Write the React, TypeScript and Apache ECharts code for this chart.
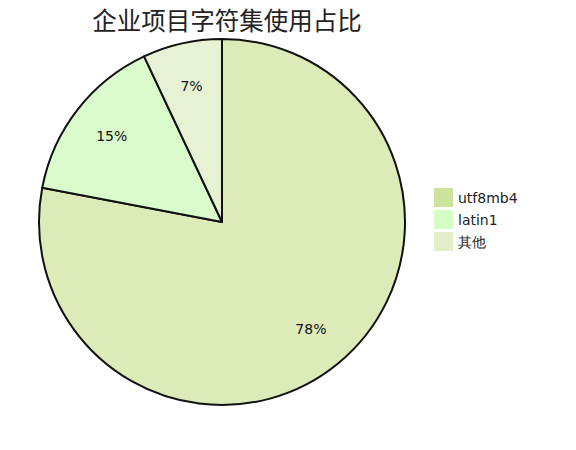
import { useEffect, useRef } from 'react';
import * as echarts from 'echarts';

const names = ['utf8mb4', 'latin1', '其他'];
const shares = [78, 15, 7];
const sliceColors = ['#dcebb8', '#dafccc', '#e7f1d3'];
const legendColors = ['#cde39c', '#d4fec4', '#e1eec8'];

export default function App(): JSX.Element {
  const chartRef = useRef<HTMLDivElement>(null);

  useEffect(() => {
    document.body.style.margin = '0';
    if (!chartRef.current) return;
    const chart = echarts.init(chartRef.current, null, { renderer: 'svg' });

    const pieData = names.map((name, i) => ({
      name,
      value: shares[i],
      itemStyle: { color: sliceColors[i] },
    }));

    const option: echarts.EChartsOption = {
      animation: false,
      textStyle: { fontFamily: 'DejaVu Sans' },
      title: {
        text: '企业项目字符集使用占比',
        left: 222,
        top: 2,
        textAlign: 'center',
        textStyle: {
          fontSize: 24.5,
          fontWeight: 'normal',
          color: '#222',
          fontFamily: 'Noto Sans CJK SC',
        },
      },
      legend: {
        orient: 'vertical',
        left: 434,
        top: 188,
        padding: 0,
        icon: 'rect',
        itemWidth: 19,
        itemHeight: 19,
        itemGap: 3,
        textStyle: { fontSize: 14, color: '#222' },
        data: names.map((name, i) => ({
          name,
          itemStyle: { color: legendColors[i], borderWidth: 0 },
        })),
      },
      series: [
        {
          type: 'pie',
          center: [222, 222],
          radius: 183,
          startAngle: 90,
          clockwise: true,
          data: pieData,
          itemStyle: { borderColor: '#111', borderWidth: 2 },
          label: { show: false },
          labelLine: { show: false },
          emphasis: { disabled: true },
        },
        {
          // transparent ring used only to place the percentage labels
          type: 'pie',
          center: [222, 222],
          radius: [90, 183],
          startAngle: 90,
          clockwise: true,
          silent: true,
          data: pieData.map((d) => ({ name: d.name, value: d.value })),
          itemStyle: { color: 'rgba(0,0,0,0)', borderWidth: 0 },
          label: {
            show: true,
            position: 'inside',
            formatter: '{c}%',
            fontSize: 14,
            color: '#111',
          },
          labelLine: { show: false },
          emphasis: { disabled: true },
        },
      ],
    };

    chart.setOption(option);

    return () => {
      chart.dispose();
    };
  }, []);

  return <div ref={chartRef} style={{ width: 576, height: 450 }} />;
}
